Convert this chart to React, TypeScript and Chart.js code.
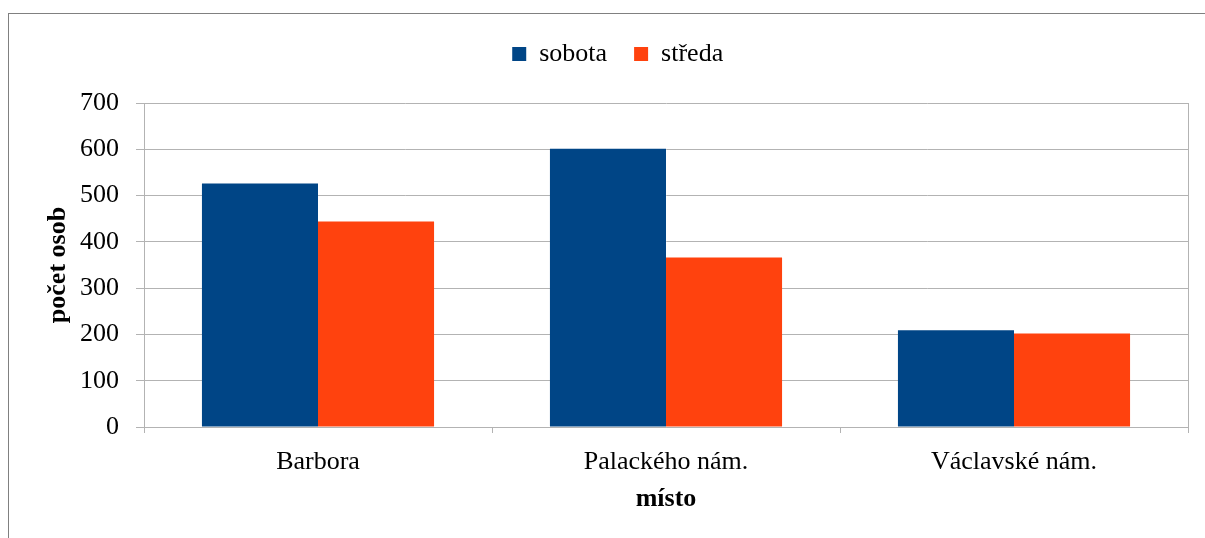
import React, { useEffect, useRef } from "react";
import { Chart, registerables } from "chart.js";

Chart.register(...registerables);

const categories = ["Barbora", "Palackého nám.", "Václavské nám."];
const seriesNames = ["sobota", "středa"];
const sobota = [526, 601, 209];
const streda = [444, 366, 202];
const yMin = 0;
const yMax = 700;
const yStep = 100;
const xTitle = "místo";
const yTitle = "počet osob";

const FONT = "'Liberation Serif', 'Times New Roman', serif";
const GRID = "#b3b3b3";
const FS = 26;

Chart.defaults.font.family = FONT;
Chart.defaults.font.size = FS;
Chart.defaults.color = "#000";

const legendSpacer = {
  id: "legendSpacer",
  beforeLayout(chart: any) {
    const lg = chart.legend;
    if (lg && !lg.__patched) {
      const orig = lg.fit;
      lg.fit = function () {
        orig.call(this);
        this.height += 26;
        if (this.lineWidths && this.lineWidths.length) this.lineWidths[0] -= 9;
      };
      lg.__patched = true;
    }
  },
};

export default function App() {
  const ref = useRef<HTMLCanvasElement | null>(null);

  useEffect(() => {
    if (!ref.current) return;
    const chart = new Chart(ref.current, {
      type: "bar",
      data: {
        labels: categories,
        datasets: [
          {
            label: seriesNames[0],
            data: sobota,
            backgroundColor: "#004586",
            borderWidth: 0,
            categoryPercentage: 0.667,
            barPercentage: 1.0,
          },
          {
            label: seriesNames[1],
            data: streda,
            backgroundColor: "#ff420e",
            borderWidth: 0,
            categoryPercentage: 0.667,
            barPercentage: 1.0,
          },
        ],
      },
      plugins: [legendSpacer],
      options: {
        responsive: false,
        animation: false,
        devicePixelRatio: 1,
        layout: { padding: { left: 29.4, right: 17, top: 0, bottom: 23.4 } },
        plugins: {
          legend: {
            display: true,
            position: "top",
            labels: {
              font: { family: FONT, size: FS, weight: "normal" },
              color: "#000",
              boxWidth: 14,
              boxHeight: 14,
              padding: 27,
            },
          },
          tooltip: { enabled: false },
        },
        scales: {
          x: {
            afterFit: (s: any) => {
              s.height = 87.6;
            },
            grid: {
              display: true,
              offset: true,
              drawOnChartArea: false,
              drawTicks: true,
              tickLength: 6,
              color: GRID,
            },
            border: { display: true, color: GRID, width: 1 },
            ticks: {
              font: { family: FONT, size: FS, lineHeight: 1 },
              color: "#000",
              padding: 16,
              maxRotation: 0,
            },
            title: {
              display: true,
              text: xTitle,
              font: { family: FONT, size: FS, weight: "bold" },
              color: "#000",
              padding: { top: 3.4, bottom: 0 },
            },
          },
          y: {
            min: yMin,
            max: yMax,
            afterFit: (s: any) => {
              s.width = 105.6;
            },
            grid: {
              color: GRID,
              drawTicks: true,
              tickLength: 8,
            },
            border: { display: true, color: GRID, width: 1 },
            ticks: {
              stepSize: yStep,
              font: { family: FONT, size: FS },
              color: "#000",
              padding: 17,
            },
            title: {
              display: true,
              text: yTitle,
              font: { family: FONT, size: FS, weight: "bold" },
              color: "#000",
              padding: { top: 4, bottom: 4 },
            },
          },
          y2: {
            position: "right",
            min: yMin,
            max: yMax,
            grid: { drawOnChartArea: false, drawTicks: false },
            border: { display: true, color: GRID, width: 1 },
            ticks: { display: false },
          },
        },
      },
    });
    return () => chart.destroy();
  }, []);

  return (
    <div
      style={{
        position: "absolute",
        left: 8,
        top: 13,
        width: 1197,
        height: 525,
        boxSizing: "border-box",
        borderLeft: "1px solid #808080",
        borderTop: "1px solid #808080",
        background: "#fff",
      }}
    >
      <canvas ref={ref} width={1196} height={524} style={{ display: "block" }} />
    </div>
  );
}
